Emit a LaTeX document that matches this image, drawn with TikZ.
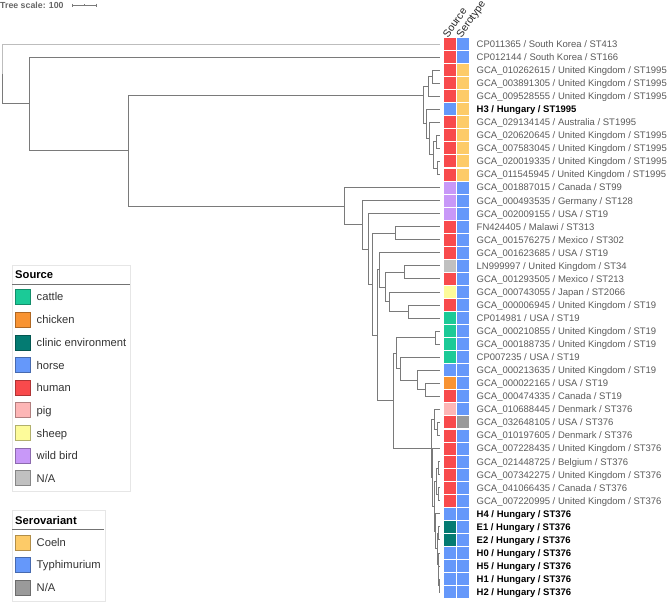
\documentclass[tikz,border=0pt]{standalone}
\usepackage{fontspec}
\setmainfont{Liberation Sans}
\definecolor{cattle}{HTML}{1BCA97}
\definecolor{chicken}{HTML}{F89332}
\definecolor{clinic}{HTML}{047B72}
\definecolor{horse}{HTML}{6598FA}
\definecolor{human}{HTML}{F84A4C}
\definecolor{pig}{HTML}{FDB6B6}
\definecolor{sheep}{HTML}{FDFB9A}
\definecolor{wildbird}{HTML}{C898F8}
\definecolor{nasrc}{HTML}{C0C0C0}
\definecolor{coeln}{HTML}{FDCB68}
\definecolor{typh}{HTML}{6598FA}
\definecolor{nasero}{HTML}{9A9A9A}
\definecolor{branch}{HTML}{7A7A7A}
\definecolor{lightbranch}{HTML}{BDBDBD}
\definecolor{labgray}{HTML}{5A5A5A}
\definecolor{legtext}{HTML}{333333}
\definecolor{legborder}{HTML}{E6E6E6}
\tikzset{
  br/.style={draw=branch,line width=0.9pt},
  lbr/.style={draw=lightbranch,line width=0.9pt},
  cell/.style={minimum width=12pt,minimum height=12pt,inner sep=0pt,draw=none},
  lab/.style={anchor=base west,inner sep=0pt,font=\fontsize{9.5}{11}\selectfont,text=labgray},
  blab/.style={lab,font=\fontsize{9.5}{11}\selectfont\bfseries,text=black},
  legsq/.style={minimum width=15pt,minimum height=15pt,inner sep=0pt,line width=0.6pt},
  legtxt/.style={anchor=base west,inner sep=0pt,font=\fontsize{11.2}{13}\selectfont,text=legtext},
  legtitle/.style={anchor=base west,inner sep=0pt,font=\fontsize{11.2}{13}\selectfont\bfseries,text=black},
  hdr/.style={anchor=base west,inner sep=0pt,rotate=55,font=\fontsize{10.5}{12}\selectfont,text=black!85}
}
\newcommand\leaf[5]{%
  \pgfmathsetmacro\yy{44+(#1-1)*13.05}%
  \coordinate (L#1) at (440,\yy);
  \node[cell,fill=#2] (s#1) at (450,\yy) {};
  \node[cell,fill=#3] (r#1) at (463.3,\yy) {};
  \node[#4] (t#1) at (476.5,\yy+3.4) {#5};
}
\newcommand\legitem[4]{%
  \node[legsq,fill=#3,draw=#3!70!black] (#1sq) at (22.5,#2) {};
  \node[legtxt] (#1t) at (36.5,#2+4) {#4};
}
\begin{document}
\begin{tikzpicture}[x=1pt,y=-1pt]
\useasboundingbox (0,0) rectangle (669,602);
% tree scale
\node[anchor=base west,inner sep=0pt,font=\fontsize{8.8}{10}\selectfont\bfseries,text=black!60] (scale) at (0,8.6) {Tree scale: 100};
\coordinate (sbL) at (72,5.2);
\coordinate (sbM) at (84,5.2);
\coordinate (sbR) at (96,5.2);
\draw[draw=branch,line width=0.7pt] (sbL) -- (sbR);
\draw[draw=branch,line width=0.7pt] ([yshift=1.6pt]sbL) -- ([yshift=-1.6pt]sbL);
\draw[draw=branch,line width=0.7pt] ([yshift=1.6pt]sbR) -- ([yshift=-1.6pt]sbR);
\draw[draw=branch,line width=0.7pt] ([yshift=1pt]sbM) -- ([yshift=-1pt]sbM);
% headers
\node[hdr] (hSource) at (448,38.5) {Source};
\node[hdr] (hSero) at (461.5,38.5) {Serotype};
% leaves
\leaf{1}{human}{typh}{lab}{CP011365 / South Korea / ST413}
\leaf{2}{human}{typh}{lab}{CP012144 / South Korea / ST166}
\leaf{3}{human}{coeln}{lab}{GCA\_010262615 / United Kingdom / ST1995}
\leaf{4}{human}{coeln}{lab}{GCA\_003891305 / United Kingdom / ST1995}
\leaf{5}{human}{coeln}{lab}{GCA\_009528555 / United Kingdom / ST1995}
\leaf{6}{horse}{coeln}{blab}{H3 / Hungary / ST1995}
\leaf{7}{human}{coeln}{lab}{GCA\_029134145 / Australia / ST1995}
\leaf{8}{human}{coeln}{lab}{GCA\_020620645 / United Kingdom / ST1995}
\leaf{9}{human}{coeln}{lab}{GCA\_007583045 / United Kingdom / ST1995}
\leaf{10}{human}{coeln}{lab}{GCA\_020019335 / United Kingdom / ST1995}
\leaf{11}{human}{coeln}{lab}{GCA\_011545945 / United Kingdom / ST1995}
\leaf{12}{wildbird}{typh}{lab}{GCA\_001887015 / Canada / ST99}
\leaf{13}{wildbird}{typh}{lab}{GCA\_000493535 / Germany / ST128}
\leaf{14}{wildbird}{typh}{lab}{GCA\_002009155 / USA / ST19}
\leaf{15}{human}{typh}{lab}{FN424405 / Malawi / ST313}
\leaf{16}{human}{typh}{lab}{GCA\_001576275 / Mexico / ST302}
\leaf{17}{human}{typh}{lab}{GCA\_001623685 / USA / ST19}
\leaf{18}{nasrc}{typh}{lab}{LN999997 / United Kingdom / ST34}
\leaf{19}{human}{typh}{lab}{GCA\_001293505 / Mexico / ST213}
\leaf{20}{sheep}{typh}{lab}{GCA\_000743055 / Japan / ST2066}
\leaf{21}{human}{typh}{lab}{GCA\_000006945 / United Kingdom / ST19}
\leaf{22}{cattle}{typh}{lab}{CP014981 / USA / ST19}
\leaf{23}{cattle}{typh}{lab}{GCA\_000210855 / United Kingdom / ST19}
\leaf{24}{cattle}{typh}{lab}{GCA\_000188735 / United Kingdom / ST19}
\leaf{25}{cattle}{typh}{lab}{CP007235 / USA / ST19}
\leaf{26}{horse}{typh}{lab}{GCA\_000213635 / United Kingdom / ST19}
\leaf{27}{chicken}{typh}{lab}{GCA\_000022165 / USA / ST19}
\leaf{28}{human}{typh}{lab}{GCA\_000474335 / Canada / ST19}
\leaf{29}{pig}{typh}{lab}{GCA\_010688445 / Denmark / ST376}
\leaf{30}{human}{nasero}{lab}{GCA\_032648105 / USA / ST376}
\leaf{31}{human}{typh}{lab}{GCA\_010197605 / Denmark / ST376}
\leaf{32}{human}{typh}{lab}{GCA\_007228435 / United Kingdom / ST376}
\leaf{33}{human}{typh}{lab}{GCA\_021448725 / Belgium / ST376}
\leaf{34}{human}{typh}{lab}{GCA\_007342275 / United Kingdom / ST376}
\leaf{35}{human}{typh}{lab}{GCA\_041066435 / Canada / ST376}
\leaf{36}{human}{typh}{lab}{GCA\_007220995 / United Kingdom / ST376}
\leaf{37}{horse}{typh}{blab}{H4 / Hungary / ST376}
\leaf{38}{clinic}{typh}{blab}{E1 / Hungary / ST376}
\leaf{39}{clinic}{typh}{blab}{E2 / Hungary / ST376}
\leaf{40}{horse}{typh}{blab}{H0 / Hungary / ST376}
\leaf{41}{horse}{typh}{blab}{H5 / Hungary / ST376}
\leaf{42}{horse}{typh}{blab}{H1 / Hungary / ST376}
\leaf{43}{horse}{typh}{blab}{H2 / Hungary / ST376}
% internal nodes
\coordinate (root) at (2,73.9);
\coordinate (N29) at (29,103.8);
\coordinate (N128) at (128,150.6);
\coordinate (S1995) at (423,95);
\coordinate (nb) at (428,86.4);
\coordinate (na) at (432,76.6);
\coordinate (nh) at (426,123.9);
\coordinate (ng) at (429,138.6);
\coordinate (nf) at (433,154.9);
\coordinate (nd) at (436,141.9);
\coordinate (ne) at (437,168);
\coordinate (N344) at (344,206.2);
\coordinate (N362) at (362,224.8);
\coordinate (N368) at (368,249);
\coordinate (N372) at (372,284.3);
\coordinate (N395) at (395,233.2);
\coordinate (N377) at (377,335.3);
\coordinate (NC) at (379.3,269.9);
\coordinate (ND) at (385.7,287.05);
\coordinate (NE) at (404,272.4);
\coordinate (NF) at (389,301.7);
\coordinate (NG) at (408,311.5);
\coordinate (NB) at (393.7,400.7);
\coordinate (NA) at (396.7,353.1);
\coordinate (N435) at (435,337.6);
\coordinate (NH) at (400.7,368.6);
\coordinate (NI) at (417.3,380);
\coordinate (NJ) at (425,389.8);
\coordinate (R376) at (431,448.3);
\coordinate (c2) at (434,419.2);
\coordinate (c1) at (437,429);
\coordinate (X) at (432.5,477.4);
\coordinate (Y) at (434,506.3);
\coordinate (c5) at (436,481.2);
\coordinate (c3) at (438,468.1);
\coordinate (c4) at (438,494.2);
\coordinate (c13) at (435.5,531.3);
\coordinate (c12) at (437,548.9);
\coordinate (c11) at (438.5,533.4);
\coordinate (c10) at (438,564.4);
\coordinate (c9) at (438.5,575.8);
\coordinate (c8) at (439,585.6);
% branches
\draw[lbr] (root) |- (L1);
\foreach \p/\c in {root/N29,N29/L2,N29/N128,N128/S1995,N128/N344,
  S1995/nb,S1995/nh,nb/na,nb/L5,na/L3,na/L4,nh/L6,nh/ng,ng/L7,ng/nf,nf/nd,nf/ne,nd/L8,nd/L9,ne/L10,ne/L11,
  N344/L12,N344/N362,N362/L13,N362/N368,N368/L14,N368/N372,N372/N395,N372/N377,N395/L15,N395/L16,
  N377/NC,N377/NB,NC/L17,NC/ND,ND/NE,ND/NF,NE/L18,NE/L19,NF/L20,NF/NG,NG/L21,NG/L22,
  NB/NA,NB/R376,NA/N435,NA/NH,N435/L23,N435/L24,NH/L25,NH/NI,NI/L26,NI/NJ,NJ/L27,NJ/L28,
  R376/c2,R376/X,c2/L29,c2/c1,c1/L30,c1/L31,X/L32,X/Y,Y/c5,Y/c13,c5/c3,c5/c4,c3/L33,c3/L34,c4/L35,c4/L36,
  c13/L37,c13/c12,c12/c11,c12/c10,c11/L38,c11/L39,c10/L40,c10/c9,c9/L41,c9/c8,c8/L42,c8/L43}
  \draw[br] (\p) |- (\c);
% Source legend
\draw[legborder,line width=0.8pt] (12,265) rectangle (130,491.7);
\node[legtitle] (srcTitle) at (15,278.4) {Source};
\draw[draw=black!55,line width=0.9pt] (12,284) -- (130,284);
\legitem{cattle}{296.8}{cattle}{cattle}
\legitem{chicken}{319.9}{chicken}{chicken}
\legitem{clinic}{342.5}{clinic}{clinic environment}
\legitem{horse}{365.2}{horse}{horse}
\legitem{human}{387.5}{human}{human}
\legitem{pig}{410.2}{pig}{pig}
\legitem{sheep}{433}{sheep}{sheep}
\legitem{wildbird}{455.6}{wildbird}{wild bird}
\legitem{nasrc}{478}{nasrc}{N/A}
% Serovariant legend
\draw[legborder,line width=0.8pt] (12,510) rectangle (105,601.5);
\node[legtitle] (seroTitle) at (15,524) {Serovariant};
\draw[draw=black!55,line width=0.9pt] (12,529.3) -- (104,529.3);
\legitem{coeln}{542.5}{coeln}{Coeln}
\legitem{typh}{564.8}{typh}{Typhimurium}
\legitem{nasero}{587.5}{nasero}{N/A}
\end{tikzpicture}
\end{document}
